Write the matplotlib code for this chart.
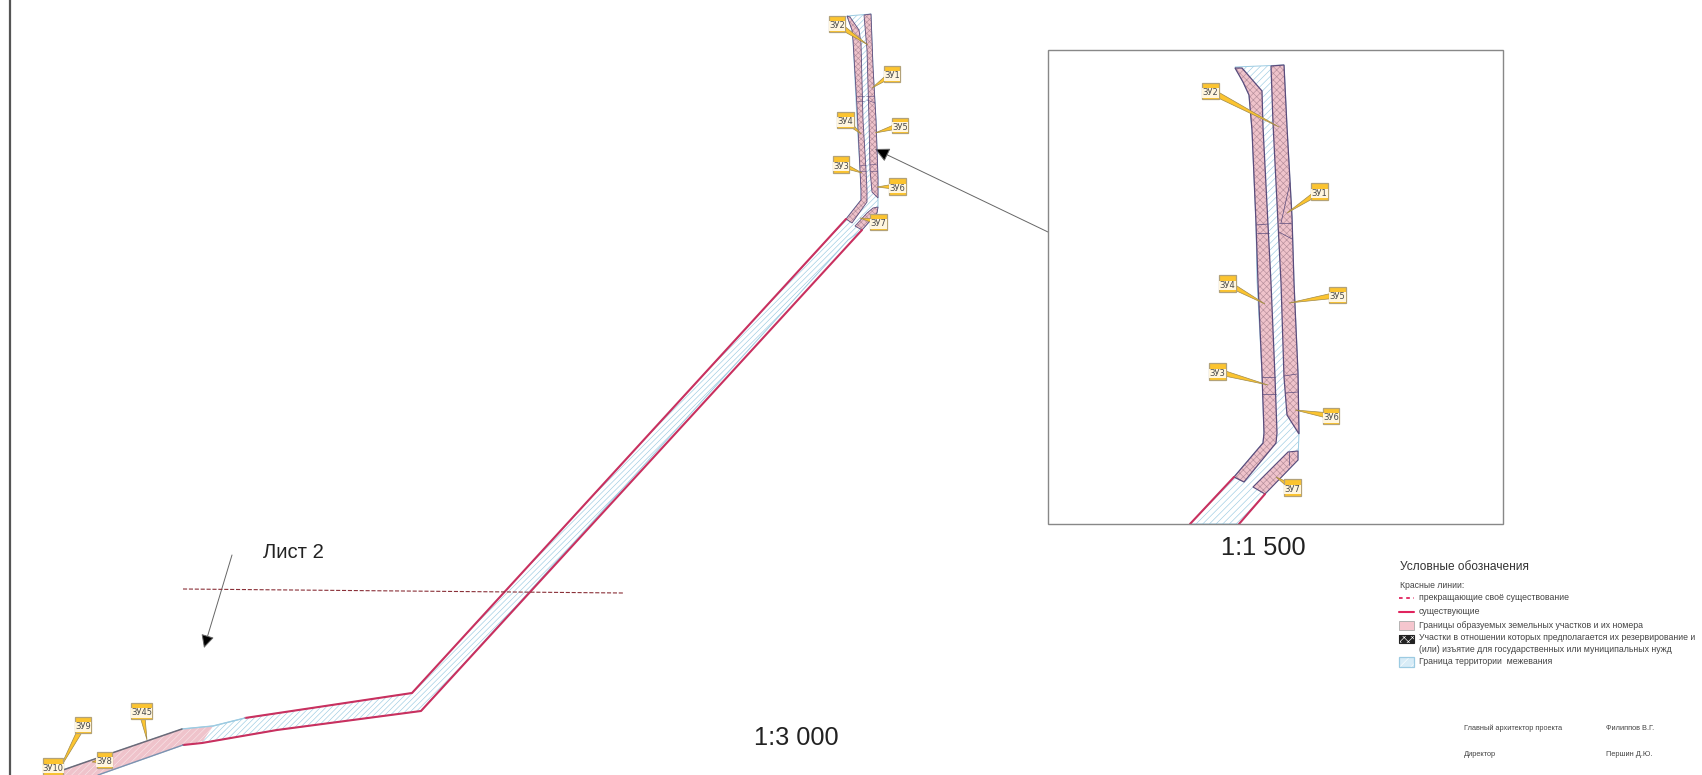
import matplotlib
matplotlib.use("Agg")
import matplotlib.pyplot as plt
from matplotlib.patches import Polygon, Rectangle

plt.rcParams['font.family'] = ['Liberation Sans', 'DejaVu Sans']
plt.rcParams['hatch.linewidth'] = 0.45

# main map, pixel coordinates of the sheet
main_territory = [(847, 16), (871, 14), (873, 67), (876, 120), (878, 178), (878, 207), (877, 213), (862, 230),
                  (848, 240), (421, 711), (277, 730), (202, 743), (183, 745), (98, 775), (50, 775), (63, 770),
                  (112, 753), (182, 729), (213, 726), (245, 718), (412, 693), (827, 240), (846, 219), (861, 200),
                  (861, 190), (860, 170), (857, 120), (853, 40), (852, 30)]
main_left_band = [(847, 16), (852, 30), (853, 40), (857, 107), (860, 170), (861, 190), (861, 200), (846, 219),
                  (852, 223), (867, 202), (867, 190), (866, 170), (863, 120), (861, 43), (859, 30), (850, 17)]
main_right_band = [(864, 15), (871, 14), (873, 67), (876, 120), (878, 178), (878, 198), (872, 192), (870, 170),
                   (869, 120), (867, 50)]
main_zu7 = [(873, 208), (878, 207), (877, 213), (862, 230), (855, 226), (867, 213)]
main_pink = [(50, 775), (63, 770), (112, 753), (182, 729), (213, 726), (203, 741), (183, 745), (98, 775)]
main_red_left = [(846, 219), (412, 693), (245, 718)]
main_red_right = [(862, 230), (421, 711), (277, 730), (202, 743), (183, 745)]
main_blue_top = [(182, 729), (213, 726), (245, 718)]
main_dark_top = [(50, 775), (63, 770), (112, 753), (182, 729)]
main_dark_bottom = [(98, 775), (183, 745)]
main_cuts = [[(857, 96), (864, 96)], [(857, 101), (864, 101)], [(866, 96), (874, 96)], [(867, 100), (875, 103)],
             [(860, 165), (866, 165)], [(860, 171), (866, 171)], [(870, 165), (877, 164)], [(870, 171), (877, 171)]]
sheet_line = [(183, 589), (623, 593)]

# enlarged fragment
inset_frame = (1048, 50, 1503, 524)
inset_territory = [(1235, 67), (1284, 65), (1287, 127), (1292, 217), (1294, 283), (1298, 373), (1299, 433),
                   (1298, 460), (1265, 494), (1239, 524), (1190, 524), (1234, 477), (1263, 443), (1264, 433),
                   (1262, 373), (1257, 280), (1256, 223), (1252, 130), (1249, 95), (1243, 82)]
inset_left_band = [(1235, 68), (1243, 82), (1249, 95), (1252, 130), (1256, 223), (1258, 283), (1262, 373),
                   (1264, 433), (1263, 443), (1234, 477), (1244, 482), (1276, 443), (1277, 433), (1275, 377),
                   (1271, 283), (1263, 127), (1262, 91), (1242, 68)]
inset_right_band = [(1271, 66), (1284, 65), (1287, 127), (1292, 217), (1294, 283), (1298, 373), (1299, 434),
                    (1287, 415), (1284, 377), (1281, 283), (1273, 123)]
inset_zu7 = [(1288, 452), (1298, 451), (1298, 460), (1265, 494), (1253, 487), (1280, 460)]
inset_red_left = [(1234, 477), (1190, 524)]
inset_red_right = [(1265, 494), (1239, 524)]
inset_cuts = [[(1256, 225), (1268, 224)], [(1257, 233), (1269, 233)], [(1279, 223), (1291, 223)],
              [(1279, 232), (1292, 239)], [(1290, 183), (1281, 223)], [(1262, 377), (1275, 377)],
              [(1262, 394), (1276, 394)], [(1284, 376), (1297, 374)], [(1286, 393), (1298, 392)],
              [(1289, 452), (1289, 465)]]

# plot labels: name, left, top, right, bottom, pointer tip
label_names = ["ЗУ2", "ЗУ1", "ЗУ4", "ЗУ5", "ЗУ3", "ЗУ6", "ЗУ7", "ЗУ9", "ЗУ45", "ЗУ8", "ЗУ10",
               "ЗУ2", "ЗУ1", "ЗУ4", "ЗУ5", "ЗУ3", "ЗУ6", "ЗУ7"]
label_boxes = [(829, 16, 845, 32), (884, 66, 900, 82), (837, 112, 854, 128), (892, 118, 908, 133),
               (833, 156, 849, 173), (889, 178, 906, 195), (870, 214, 887, 230), (75, 717, 91, 733),
               (131, 703, 152, 719), (97, 752, 112, 768), (43, 758, 63, 775),
               (1202, 83, 1219, 99), (1311, 183, 1328, 200), (1219, 275, 1236, 292), (1329, 287, 1346, 303),
               (1209, 363, 1226, 380), (1323, 408, 1339, 424), (1284, 479, 1301, 496)]
label_tips = [(868, 45), (872, 88), (861, 134), (875, 133), (862, 173), (877, 187), (860, 218), (59, 770),
              (147, 740), (92, 762), (60, 770),
              (1279, 127), (1287, 213), (1265, 304), (1289, 303), (1268, 385), (1295, 410), (1276, 477)]

scale_texts = ["Лист 2", "1:3 000", "1:1 500"]
legend_title = "Условные обозначения"
legend_head = "Красные линии:"
legend_items = ["прекращающие своё существование", "существующие",
                "Границы образуемых земельных участков и их номера",
                "Участки в отношении которых предполагается их резервирование и",
                "(или) изъятие для государственных или муниципальных нужд",
                "Граница территории  межевания"]
sign_roles = ["Главный архитектор проекта", "Директор"]
sign_names = ["Филиппов В.Г.", "Першин Д.Ю."]

RED = "#c9305f"
DARK = "#5a4c7c"
BLUE = "#9ccbe2"
PINK = "#efc3cb"

fig = plt.figure(figsize=(17.02, 7.75), dpi=100)
ax = fig.add_axes([0, 0, 1, 1])
ax.set_xlim(0, 1702)
ax.set_ylim(775, 0)
ax.axis("off")


def line(points, color, lw=1.0, ls="-", z=5):
    xs, ys = zip(*points)
    ax.plot(xs, ys, color=color, lw=lw, ls=ls, zorder=z, solid_capstyle="round")


def territory(points, hatch):
    ax.add_patch(Polygon(points, facecolor="white", edgecolor=BLUE, hatch=hatch, lw=0.7, zorder=2))


def plot_area(points, hatch, lw):
    ax.add_patch(Polygon(points, facecolor=PINK, edgecolor="none", zorder=3))
    ax.add_patch(Polygon(points, fill=False, edgecolor="#b58e9b", hatch=hatch, lw=0, zorder=3))
    ax.add_patch(Polygon(points, fill=False, edgecolor=DARK, lw=lw, zorder=4))


def zu_label(name, box, tip):
    x0, y0, x1, y1 = box
    cx, cy = (x0 + x1) / 2, (y0 + y1) / 2
    dx, dy = cx - tip[0], cy - tip[1]
    size = (dx ** 2 + dy ** 2) ** 0.5
    nx, ny = -dy / size * 3, dx / size * 3
    ax.add_patch(Polygon([tip, (cx + nx, cy + ny), (cx - nx, cy - ny)], facecolor="#fcc42f",
                         edgecolor="#a08a4a", lw=0.5, zorder=7))
    ax.add_patch(Rectangle((x0, y0), x1 - x0, y1 - y0, facecolor="#fcc42f", edgecolor="#b3a278", lw=0.9, zorder=8))
    ax.text(cx, y0 + (y1 - y0) * 0.62, name, ha="center", va="center", fontsize=6, color="#4a4a4a",
            family="DejaVu Sans", zorder=9,
            bbox=dict(boxstyle="square,pad=0.05", facecolor="#fff6df", edgecolor="none"))


# main map
territory(main_territory, "//////")
ax.add_patch(Polygon(main_pink, facecolor=PINK, edgecolor="#f8e4e8", hatch="/////", lw=0, zorder=3))
plot_area(main_left_band, "xxxxxx", 0.6)
plot_area(main_right_band, "xxxxxx", 0.6)
plot_area(main_zu7, "xxxxxx", 0.6)
for cut in main_cuts:
    line(cut, DARK, 0.4)
line(main_red_left, RED, 1.5)
line(main_red_right, RED, 1.5)
line(main_blue_top, BLUE, 1.0)
line(main_dark_top, "#6a6a78", 1.1)
line(main_dark_bottom, "#7d92b0", 1.0)
line(sheet_line, "#8a3038", 0.8, "--")

# left frame line
line([(10, 0), (10, 775)], "#555555", 1.6)

# inset
ax.add_patch(Rectangle((inset_frame[0], inset_frame[1]), inset_frame[2] - inset_frame[0],
                       inset_frame[3] - inset_frame[1], fill=False, edgecolor="#888888", lw=1.0, zorder=6))
territory(inset_territory, "/////")
plot_area(inset_left_band, "xxxxx", 0.9)
plot_area(inset_right_band, "xxxxx", 0.9)
plot_area(inset_zu7, "xxxxx", 0.8)
for cut in inset_cuts:
    line(cut, DARK, 0.5)
line(inset_red_left, RED, 1.5)
line(inset_red_right, RED, 1.5)

for name, box, tip in zip(label_names, label_boxes, label_tips):
    zu_label(name, box, tip)

# arrows
ax.annotate("", xy=(875, 149), xytext=(1048, 232),
            arrowprops=dict(arrowstyle="-|>", mutation_scale=22, fc="black", ec="#666666", lw=0.7, shrinkA=0, shrinkB=0))
ax.annotate("", xy=(204, 648), xytext=(232, 555),
            arrowprops=dict(arrowstyle="-|>", mutation_scale=20, fc="black", ec="#666666", lw=0.7, shrinkA=0, shrinkB=0))

ax.text(263, 552, scale_texts[0], fontsize=14.6, color="#222222", va="center")
ax.text(754, 738, scale_texts[1], fontsize=18.3, color="#222222", va="center")
ax.text(1221, 548, scale_texts[2], fontsize=18.3, color="#222222", va="center")

# legend
ax.text(1400, 567, legend_title, fontsize=8.6, color="#333333", va="center")
ax.text(1400, 586, legend_head, fontsize=6.2, color="#444444", va="center")
legend_y = [598, 612, 626, 638, 649, 662]
for text, y in zip(legend_items, legend_y):
    ax.text(1419, y, text, fontsize=6.27, color="#444444", va="center")
line([(1399, 598), (1414, 598)], "#e0245e", 1.3, (0, (2, 2)))
line([(1399, 612), (1414, 612)], "#e0245e", 1.5)
ax.add_patch(Rectangle((1399, 621), 15, 9, facecolor="#f5c6ce", edgecolor="#aaaaaa", lw=0.6))
ax.add_patch(Rectangle((1399, 635), 15, 8, facecolor="#222222", edgecolor="white", hatch="xxxx", lw=0))
ax.add_patch(Rectangle((1399, 635), 15, 8, fill=False, edgecolor="#222222", lw=0.8))
ax.add_patch(Rectangle((1399, 657), 15, 10, facecolor="#d8ecf7", edgecolor="white", hatch="///", lw=0))
ax.add_patch(Rectangle((1399, 657), 15, 10, fill=False, edgecolor=BLUE, lw=0.9))

# signatures
for role, who, y in zip(sign_roles, sign_names, [728, 754]):
    ax.text(1464, y, role, fontsize=5.3, color="#444444", va="center")
    ax.text(1606, y, who, fontsize=5.3, color="#444444", va="center")

plt.savefig("out.png", dpi=100)
